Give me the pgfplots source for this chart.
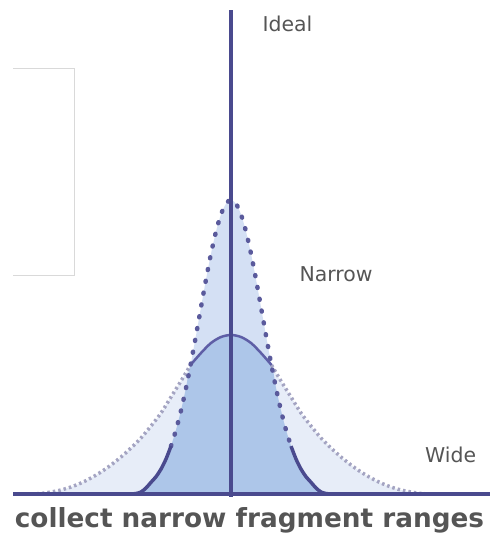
\documentclass[border=0pt]{standalone}
\usepackage{fontspec}
\setmainfont{DejaVu Sans}
\usepackage{pgfplots}
\pgfplotsset{compat=1.18}

\definecolor{lineblue}{HTML}{4A4A8E}
\definecolor{dotblue}{HTML}{5A5A9C}
\definecolor{topblue}{HTML}{5E5EA6}
\definecolor{hatch}{HTML}{A4A4C2}
\definecolor{wideonly}{HTML}{E7EDF8}
\definecolor{narrowonly}{HTML}{D4E0F4}
\definecolor{overlap}{HTML}{ADC6E9}
\definecolor{labelgray}{HTML}{555555}

\begin{document}
\begin{tikzpicture}
\begin{axis}[
    x=1bp, y=1bp,
    xmin=-231, xmax=259,
    ymin=-49, ymax=494,
    hide axis,
    clip=false,
]
\path (axis cs:-231,-49) rectangle (axis cs:259,494);

% wide distribution, fill
\addplot[fill=wideonly, draw=none, smooth] coordinates {
(-200,0) (-190,0.5) (-180,2) (-170,4) (-160,7) (-150,11) (-140,16) (-130,22)
(-120,29) (-110,37) (-100,46) (-90,56) (-80,68) (-70,81) (-60,97) (-50,113)
(-40,128) (-30,141) (-20,151) (-10,157) (0,159) (10,157) (20,151) (30,141)
(40,128) (50,113) (60,97) (70,81) (80,68) (90,56) (100,46) (110,37) (120,29)
(130,22) (140,16) (150,11) (160,7) (170,4) (180,2) (190,0.5) (200,0)
} \closedcycle;

% narrow distribution, fill
\addplot[fill=narrowonly, draw=none, smooth] coordinates {
(-100,0) (-95,0.5) (-90,2) (-85,6) (-80,11.7) (-75,17.3) (-70,24.9) (-65,35)
(-60,47.9) (-55,64) (-50,83.4) (-45,106) (-40,131.3) (-35,158.6) (-30,186.8)
(-25,214.6) (-20,240.3) (-15,262.5) (-10,279.6) (-5,290.3) (0,294)
(5,290.3) (10,279.6) (15,262.5) (20,240.3) (25,214.6) (30,186.8) (35,158.6)
(40,131.3) (45,106) (50,83.4) (55,64) (60,47.9) (65,35) (70,24.9) (75,17.3)
(80,11.7) (85,6) (90,2) (95,0.5) (100,0)
} \closedcycle;

% overlap of both
\addplot[fill=overlap, draw=none, smooth] coordinates {
(-100,0) (-95,0.5) (-90,2) (-85,6) (-80,11.7) (-75,17.3) (-70,24.9) (-65,35)
(-60,47.9) (-55,64) (-50,83.4) (-45,106) (-40.5,129) (-30,141) (-20,151)
(-10,157) (0,159) (10,157) (20,151) (30,141) (40.5,129) (45,106) (50,83.4)
(55,64) (60,47.9) (65,35) (70,24.9) (75,17.3) (80,11.7) (85,6) (90,2) (95,0.5) (100,0)
} \closedcycle;

% wide outline outside the narrow one
\addplot[hatch, line width=3.5bp, dash pattern=on 2.5bp off 3bp, smooth] coordinates {
(-200,0) (-190,0.5) (-180,2) (-170,4) (-160,7) (-150,11) (-140,16) (-130,22)
(-120,29) (-110,37) (-100,46) (-90,56) (-80,68) (-70,81) (-60,97) (-50,113) (-40.5,129)
};
\addplot[hatch, line width=3.5bp, dash pattern=on 2.5bp off 3bp, smooth] coordinates {
(40.5,129) (50,113) (60,97) (70,81) (80,68) (90,56) (100,46) (110,37) (120,29)
(130,22) (140,16) (150,11) (160,7) (170,4) (180,2) (190,0.5) (200,0)
};

% wide outline inside the narrow one
\addplot[topblue, line width=2.5bp, smooth] coordinates {
(-40.5,129) (-30,141) (-20,151) (-10,157) (0,159) (10,157) (20,151) (30,141) (40.5,129)
};

% narrow outline, dotted
\addplot[dotblue, line width=4.5bp, line cap=round, dash pattern=on 1bp off 11bp, smooth] coordinates {
(-60,47.9) (-55,64) (-50,83.4) (-45,106) (-40,131.3) (-35,158.6) (-30,186.8)
(-25,214.6) (-20,240.3) (-15,262.5) (-10,279.6) (-5,290.3) (0,294)
(5,290.3) (10,279.6) (15,262.5) (20,240.3) (25,214.6) (30,186.8) (35,158.6)
(40,131.3) (45,106) (50,83.4) (55,64) (60,47.9)
};

% narrow outline, solid foot
\addplot[lineblue, line width=3.5bp, smooth] coordinates {
(-100,0) (-95,0.5) (-90,2) (-85,6) (-80,11.7) (-75,17.3) (-70,24.9) (-65,35) (-60,47.9)
};
\addplot[lineblue, line width=3.5bp, smooth] coordinates {
(60,47.9) (65,35) (70,24.9) (75,17.3) (80,11.7) (85,6) (90,2) (95,0.5) (100,0)
};

% baseline
\addplot[lineblue, line width=4bp] coordinates {(-218,0) (259,0)};

% ideal
\addplot[lineblue, line width=4bp] coordinates {(0,-3) (0,484)};

% faint box on the left
\addplot[black!15, line width=0.8bp] coordinates {(-218,426) (-157,426) (-157,219) (-218,219)};

\node[anchor=base west, text=labelgray, font=\fontsize{20.5}{24}\selectfont]
  at (axis cs:28,462) {Ideal};
\node[anchor=base west, text=labelgray, font=\fontsize{20.5}{24}\selectfont]
  at (axis cs:65,212) {Narrow};
\node[anchor=base west, text=labelgray, font=\fontsize{20.5}{24}\selectfont]
  at (axis cs:190.7,31) {Wide};
\node[anchor=base, text=labelgray, font=\bfseries\fontsize{26.4}{30}\selectfont]
  at (axis cs:18.5,-34) {collect narrow fragment ranges};
\end{axis}
\end{tikzpicture}
\end{document}
